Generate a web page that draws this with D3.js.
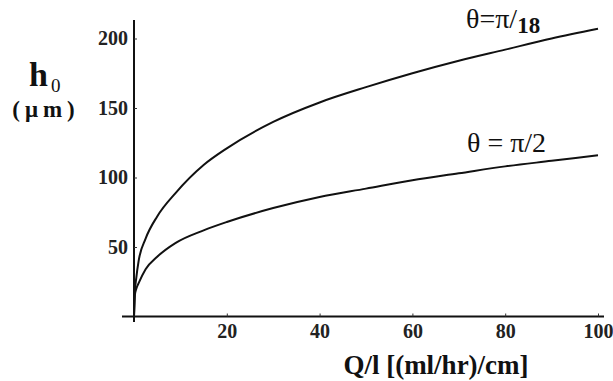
<!DOCTYPE html>
<html>
<head>
<meta charset="utf-8">
<script src="https://cdn.jsdelivr.net/npm/d3@7"></script>
<style>
  body { margin: 0; background: #fff; }
</style>
</head>
<body>
<svg id="chart" width="613" height="381" font-family="Liberation Serif, DejaVu Serif, serif"></svg>
<script>
// flow rate per length, Q/l [(ml/hr)/cm]
var flow = [0, 0.2, 0.5, 1, 2.5, 5, 9, 15, 20, 30, 40, 50, 60, 70, 80, 90, 100];
// film thickness h0 (um)
var hSmallAngle = [0, 18, 28, 40, 56, 72, 89, 109, 121, 140, 154, 165, 175, 184, 192, 200, 207];
var hRightAngle = [0, 16, 20, 24, 34, 43, 53, 62, 68, 78, 86, 92, 98, 103, 108, 112, 116];
var xTicks = [20, 40, 60, 80, 100];
var yTicks = [50, 100, 150, 200];

var serif = "'Liberation Serif', 'Times New Roman', serif";
var svg = d3.select("#chart");

var x = d3.scaleLinear().domain([0, 100]).range([134, 598]);
var y = d3.scaleLinear().domain([0, 200]).range([316.5, 38.5]);

// axis lines (stick out a little past the origin, like the original)
svg.append("line").attr("x1", 134).attr("x2", 134).attr("y1", 20).attr("y2", 322)
  .attr("stroke", "#111").attr("stroke-width", 2);
svg.append("line").attr("x1", 122).attr("x2", 604).attr("y1", 316.5).attr("y2", 316.5)
  .attr("stroke", "#111").attr("stroke-width", 2);

var xAxis = svg.append("g").attr("transform", "translate(0,316.5)")
  .call(d3.axisBottom(x).tickValues(xTicks).tickSizeInner(-3).tickSizeOuter(0).tickPadding(7));
var yAxis = svg.append("g").attr("transform", "translate(134,0)")
  .call(d3.axisLeft(y).tickValues(yTicks).tickSizeInner(-3).tickSizeOuter(0).tickPadding(6));

[xAxis, yAxis].forEach(function(a) {
  a.attr("font-family", serif);
  a.select(".domain").remove();
  a.selectAll(".tick line").attr("stroke", "#333");
  a.selectAll(".tick text")
    .style("font-family", serif)
    .style("font-weight", "bold")
    .style("font-size", "20px")
    .attr("fill", "#222");
});

var line = d3.line()
  .x(function(d) { return x(d[0]); })
  .y(function(d) { return y(d[1]); })
  .curve(d3.curveMonotoneX);

[hSmallAngle, hRightAngle].forEach(function(vals) {
  svg.append("path")
    .datum(flow.map(function(q, i) { return [q, vals[i]]; }))
    .attr("fill", "none")
    .attr("stroke", "#111")
    .attr("stroke-width", 2)
    .attr("d", line);
});

// y axis title
var yt = svg.append("text").attr("x", 29).attr("y", 86).style("font-family", serif)
  .attr("font-size", "34px").attr("font-weight", "bold").attr("fill", "#111");
yt.append("tspan").text("h");
yt.append("tspan").attr("dx", 3).attr("dy", 6).attr("font-size", "19px").attr("font-weight", "normal").text("0");
svg.append("text").attr("x", 46).attr("y", 117).attr("text-anchor", "middle").style("font-family", serif)
  .attr("font-size", "23px").attr("font-weight", "bold").attr("letter-spacing", "5px").attr("fill", "#111")
  .text("(\u03bcm)");

// x axis title
svg.append("text").attr("x", 436).attr("y", 374).attr("text-anchor", "middle").style("font-family", serif)
  .attr("font-size", "27px").attr("font-weight", "bold").attr("fill", "#111")
  .text("Q/l [(ml/hr)/cm]");

// curve labels
var l1 = svg.append("text").attr("x", 466).attr("y", 28).style("font-family", serif)
  .attr("font-size", "28px").attr("fill", "#111");
l1.append("tspan").text("\u03b8=\u03c0/");
l1.append("tspan").attr("dy", 5).attr("font-size", "23px").attr("font-weight", "bold").text("18");

svg.append("text").attr("x", 467).attr("y", 152).style("font-family", serif)
  .attr("font-size", "28px").attr("fill", "#111")
  .text("\u03b8 = \u03c0/2");
</script>
</body>
</html>
